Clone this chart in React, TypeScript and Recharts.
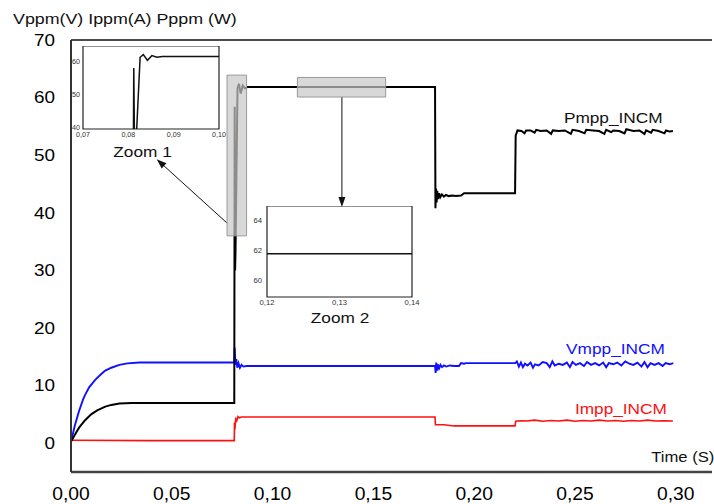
import React from 'react';
import { LineChart, Line, XAxis, YAxis, ReferenceArea, ReferenceLine, ReferenceDot } from 'recharts';

const FONT = '"Liberation Sans", Arial, Helvetica, sans-serif';

// ticks
const xTicks = [0, 0.05, 0.1, 0.15, 0.2, 0.25, 0.3];
const yTicks = [0, 10, 20, 30, 40, 50, 60, 70];
const inset1XTicks = [0.07, 0.08, 0.09, 0.1];
const inset1YTicks = [40, 50, 60];
const inset2XTicks = [0.12, 0.13, 0.14];
const inset2YTicks = [60, 62, 64];

// Pmpp_INCM (W)
const pmppTime = [
  0, 0.002, 0.004, 0.007, 0.01, 0.013, 0.017, 0.02, 0.024, 0.03, 0.035, 0.081,
  0.0812, 0.0814, 0.0816, 0.0826, 0.0833, 0.0842, 0.0852, 0.0863, 0.0875,
  0.1806, 0.1808, 0.1811, 0.1814, 0.1817, 0.1821, 0.1826, 0.1832, 0.184, 0.185, 0.186, 0.1875, 0.189, 0.191, 0.1935, 0.195,
  0.2203, 0.2206, 0.2215, 0.2235, 0.225, 0.2258, 0.228, 0.23, 0.2308, 0.233, 0.236, 0.2382, 0.239, 0.242, 0.245,
  0.248, 0.2488, 0.252, 0.2548, 0.2556, 0.259, 0.262, 0.2646, 0.2655, 0.268, 0.269, 0.272, 0.2746, 0.2755, 0.279,
  0.282, 0.2845, 0.2853, 0.2878, 0.2886, 0.2915, 0.2944, 0.2952, 0.297, 0.2986,
];
const pmppValue = [
  0.3, 1.5, 2.7, 4.0, 5.0, 5.7, 6.35, 6.65, 6.9, 7.0, 7.0, 7.0,
  58.4, 30, 33, 61.6, 62.4, 60.7, 62.1, 61.6, 61.85,
  61.85, 40.8, 44.2, 41.8, 43.8, 42.4, 43.4, 42.7, 43.2, 42.8, 43.1, 42.9, 43.0, 42.9, 43.0, 43.4,
  43.4, 53.4, 54.3, 54.2, 53.8, 54.3, 54.3, 53.9, 54.4, 54.2, 54.3, 53.7, 54.3, 54.2, 54.3,
  53.7, 54.4, 54.2, 53.8, 54.4, 54.3, 54.2, 53.7, 54.4, 54.0, 54.3, 54.2, 53.8, 54.5, 54.2,
  54.3, 53.7, 54.3, 53.9, 54.4, 54.2, 53.8, 54.3, 54.1, 54.2,
];

// Vmpp_INCM (V)
const vmppTime = [
  0, 0.002, 0.004, 0.006, 0.007, 0.009, 0.012, 0.015, 0.017, 0.02, 0.024, 0.028, 0.034, 0.081,
  0.0812, 0.0816, 0.082, 0.0825, 0.0831, 0.0838, 0.0846, 0.0855, 0.087,
  0.1806, 0.1809, 0.1812, 0.1816, 0.182, 0.1826, 0.1833, 0.184, 0.185, 0.1862, 0.188, 0.19, 0.1925, 0.1935, 0.195, 0.196,
  0.2204, 0.2212, 0.2222, 0.2232, 0.2242, 0.2252, 0.2265, 0.228, 0.2292, 0.2302, 0.232, 0.234, 0.236, 0.2375, 0.2388,
  0.24, 0.242, 0.244, 0.246, 0.2475, 0.2488, 0.2505, 0.2525, 0.2545, 0.256, 0.258, 0.26, 0.262, 0.264, 0.2655,
  0.2668, 0.269, 0.271, 0.273, 0.275, 0.277, 0.279, 0.281, 0.283, 0.2845, 0.286, 0.2875, 0.2895, 0.2915, 0.2935,
  0.295, 0.297, 0.2988,
];
const vmppValue = [
  0.3, 3.2, 5.6, 7.6, 8.4, 9.7, 11.0, 12.0, 12.6, 13.1, 13.6, 13.85, 14.0, 14.0,
  16.6, 13.6, 14.6, 13.1, 13.9, 13.1, 13.6, 13.3, 13.4,
  13.4, 12.2, 14.0, 12.6, 13.7, 13.0, 13.6, 13.2, 13.5, 13.3, 13.5, 13.4, 13.4, 13.9, 13.8, 13.9,
  13.9, 14.2, 13.3, 14.0, 13.2, 13.8, 13.5, 14.0, 13.1, 13.7, 13.5, 14.1, 13.9, 13.2, 14.2,
  13.5, 13.8, 13.6, 14.0, 13.2, 14.1, 13.6, 13.9, 13.4, 14.1, 13.6, 13.9, 13.5, 14.0, 13.2,
  13.9, 13.7, 14.0, 13.5, 14.2, 13.8, 13.6, 14.0, 13.3, 14.1, 13.2, 13.9, 13.6, 13.9, 13.4,
  13.9, 13.7, 13.9,
];

// Impp_INCM (A)
const imppTime = [
  0, 0.04, 0.081, 0.0811, 0.0813, 0.0817, 0.0822, 0.0828, 0.0835, 0.0845,
  0.1806, 0.1808, 0.185, 0.19, 0.2203, 0.2206, 0.223, 0.226, 0.23, 0.234, 0.238, 0.242, 0.246,
  0.25, 0.254, 0.258, 0.262, 0.266, 0.27, 0.274, 0.278, 0.282, 0.286, 0.29, 0.294, 0.2986,
];
const imppValue = [
  0.5, 0.45, 0.45, 3.6, 2.4, 4.2, 3.9, 4.6, 4.4, 4.55,
  4.55, 3.2, 3.2, 3.0, 3.0, 3.8, 3.9, 3.85, 4.0, 3.8, 3.95, 3.85, 4.0,
  3.8, 3.95, 3.85, 4.0, 3.85, 3.95, 3.8, 3.95, 3.85, 4.0, 3.85, 3.9, 3.85,
];

const zip = (ts: number[], vs: number[]) => ts.map((t, i) => ({ t, v: vs[i] }));
const pmppData = zip(pmppTime, pmppValue);
const vmppData = zip(vmppTime, vmppValue);
const imppData = zip(imppTime, imppValue);

const comma = (v: number, d: number) => v.toFixed(d).replace('.', ',');

const STextTick = (props: any) => {
  const { x, y, payload, fontSize, sx, anchor, dy, fmt, color } = props;
  return (
    <text
      x={0}
      y={0}
      dy={dy}
      transform={`translate(${x},${y}) scale(${sx},1)`}
      textAnchor={anchor}
      fontSize={fontSize}
      fontFamily={FONT}
      fill={color || '#000'}
      stroke="none"
    >
      {fmt(payload.value)}
    </text>
  );
};

const Arrow = (p: any) => {
  const { x1, y1, x2, y2 } = p;
  if ([x1, y1, x2, y2].some((v) => v == null || isNaN(v))) return null;
  const ang = Math.atan2(y2 - y1, x2 - x1);
  const L = 10;
  const W = 3.5;
  const bx = x2 - L * Math.cos(ang);
  const by = y2 - L * Math.sin(ang);
  const px = -Math.sin(ang) * W;
  const py = Math.cos(ang) * W;
  return (
    <g>
      <line x1={x1} y1={y1} x2={bx} y2={by} stroke="#111" strokeWidth={1} />
      <polygon points={`${x2},${y2} ${bx + px},${by + py} ${bx - px},${by - py}`} fill="#111" />
    </g>
  );
};

const SeriesLabel = (text: string, color: string, size = 15) => (p: any) => {
  const { cx, cy } = p;
  if (cx == null || cy == null) return null;
  return (
    <text
      x={0}
      y={0}
      dy="0.36em"
      transform={`translate(${cx},${cy}) scale(1.15,1)`}
      textAnchor="middle"
      fontSize={size}
      fontFamily={FONT}
      fill={color}
    >
      {text}
    </text>
  );
};

const Inset = (props: any) => {
  const { left, top, boxW, boxH, yAxisW, xAxisH, xDomain, yDomain, xT, yT, tickFs, xTickMargin, yTickMargin } = props;
  const rightPad = 12;
  return (
    <div style={{ position: 'absolute', left: left - yAxisW, top }}>
      <LineChart
        width={yAxisW + boxW + rightPad}
        height={boxH + xAxisH}
        margin={{ top: 0, right: rightPad, bottom: 0, left: 0 }}
      >
        <XAxis
          dataKey="t"
          type="number"
          domain={xDomain}
          ticks={xT}
          interval={0}
          allowDataOverflow
          height={xAxisH}
          axisLine={false}
          tickLine={false}
          tickSize={0}
          tickMargin={xTickMargin}
          tick={<STextTick fontSize={tickFs} sx={1.1} anchor="middle" dy="0.71em" fmt={(v: number) => comma(v, 2)} color="#333" />}
        />
        <YAxis
          type="number"
          domain={yDomain}
          ticks={yT}
          interval={0}
          allowDataOverflow
          width={yAxisW}
          axisLine={false}
          tickLine={false}
          tickSize={0}
          tickMargin={yTickMargin}
          tick={<STextTick fontSize={tickFs} sx={1.1} anchor="end" dy="0.2em" fmt={(v: number) => String(v)} color="#333" />}
        />
        <Line data={pmppData} dataKey="v" stroke="#111" strokeWidth={1.5} dot={false} isAnimationActive={false} type="linear" />
        <ReferenceArea x1={xDomain[0]} x2={xDomain[1]} y1={yDomain[0]} y2={yDomain[1]} fill="none" stroke="#222" strokeWidth={1.2} ifOverflow="visible" />
      </LineChart>
    </div>
  );
};

export default function App() {
  return (
    <div style={{ position: 'absolute', left: 0, top: 0, width: 714, height: 504, background: '#fff', fontFamily: FONT }}>
      <LineChart width={714} height={504} margin={{ top: 40, right: 2, bottom: 0, left: 0 }}>
        <XAxis
          dataKey="t"
          type="number"
          domain={[0, 0.318]}
          ticks={xTicks}
          interval={0}
          allowDataOverflow
          height={32}
          tickLine={false}
          tickSize={6}
          tickMargin={9}
          axisLine={{ stroke: '#444', strokeWidth: 2.5 }}
          tick={<STextTick fontSize={18} sx={1.07} anchor="middle" dy="0.71em" fmt={(v: number) => comma(v, 2)} color="#000" />}
        />
        <YAxis
          type="number"
          domain={[-5, 70]}
          ticks={yTicks}
          interval={0}
          allowDataOverflow
          width={71}
          tickLine={false}
          tickSize={6}
          tickMargin={10}
          axisLine={{ stroke: '#333', strokeWidth: 2 }}
          tick={<STextTick fontSize={16} sx={1.18} anchor="end" dy="0.36em" fmt={(v: number) => String(v)} color="#000" />}
        />
        <ReferenceLine y={70} stroke="#111" strokeWidth={1.5} />
        <Line data={imppData} dataKey="v" stroke="#ff1010" strokeWidth={1.6} dot={false} isAnimationActive={false} type="linear" />
        <Line data={vmppData} dataKey="v" stroke="#1010ff" strokeWidth={1.9} dot={false} isAnimationActive={false} type="linear" />
        <Line data={pmppData} dataKey="v" stroke="#000" strokeWidth={2} dot={false} isAnimationActive={false} type="linear" />
        <ReferenceArea x1={0.0774} x2={0.0871} y1={36} y2={63.9} fill="#c8c8c8" fillOpacity={0.7} stroke="#9a9a9a" strokeWidth={1} zIndex={450} />
        <ReferenceArea x1={0.1123} x2={0.1561} y1={60.1} y2={63.5} fill="#c8c8c8" fillOpacity={0.7} stroke="#9a9a9a" strokeWidth={1} zIndex={450} />
        <ReferenceLine segment={[{ x: 0.0775, y: 38.2 }, { x: 0.0425, y: 49.3 }]} shape={Arrow} ifOverflow="visible" />
        <ReferenceLine segment={[{ x: 0.1344, y: 60.1 }, { x: 0.1344, y: 41.0 }]} shape={Arrow} ifOverflow="visible" />
        <ReferenceDot x={0.269} y={56.5} r={0} shape={SeriesLabel('Pmpp_INCM', '#111')} ifOverflow="visible" />
        <ReferenceDot x={0.2701} y={16.4} r={0} shape={SeriesLabel('Vmpp_INCM', '#1010ff')} ifOverflow="visible" />
        <ReferenceDot x={0.2728} y={5.96} r={0} shape={SeriesLabel('Impp_INCM', '#ff1010')} ifOverflow="visible" />
        <ReferenceDot x={0.3035} y={-2.4} r={0} shape={SeriesLabel('Time (S)', '#111', 14.5)} ifOverflow="visible" />
      </LineChart>

      <Inset
        left={83}
        top={46}
        boxW={136}
        boxH={83}
        yAxisW={14}
        xAxisH={13}
        xDomain={[0.07, 0.1]}
        yDomain={[40, 65]}
        xT={inset1XTicks}
        yT={inset1YTicks}
        tickFs={6.5}
        xTickMargin={3}
        yTickMargin={3}
      />
      <Inset
        left={267}
        top={206}
        boxW={145}
        boxH={91}
        yAxisW={18}
        xAxisH={14}
        xDomain={[0.12, 0.14]}
        yDomain={[59, 65]}
        xT={inset2XTicks}
        yT={inset2YTicks}
        tickFs={7}
        xTickMargin={3}
        yTickMargin={5}
      />

      <svg width={714} height={504} style={{ position: 'absolute', left: 0, top: 0, pointerEvents: 'none' }}>
        <text x={0} y={0} transform="translate(13,23.5) scale(1.15,1)" fontSize={15.5} fontFamily={FONT} fill="#111">
          Vppm(V) Ippm(A) Pppm (W)
        </text>
        <text x={0} y={0} transform="translate(142.5,157) scale(1.15,1)" textAnchor="middle" fontSize={15} fontFamily={FONT} fill="#111">
          Zoom 1
        </text>
        <text x={0} y={0} transform="translate(340,323.3) scale(1.15,1)" textAnchor="middle" fontSize={15} fontFamily={FONT} fill="#111">
          Zoom 2
        </text>
      </svg>
    </div>
  );
}
